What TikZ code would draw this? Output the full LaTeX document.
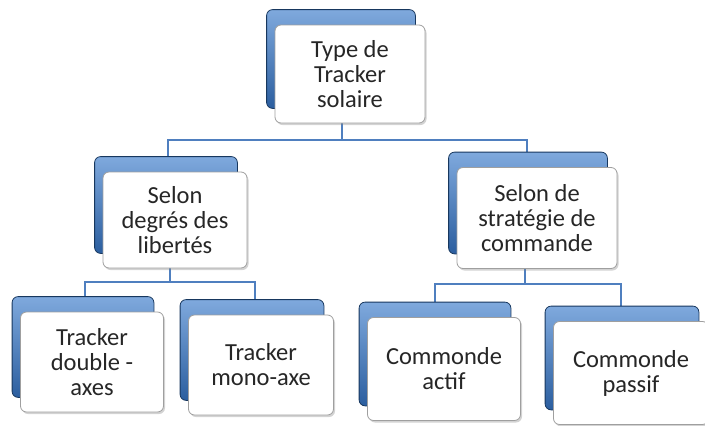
\documentclass[tikz,border=0pt]{standalone}
\usepackage{fontspec}
\setmainfont{Carlito}
\usetikzlibrary{backgrounds,shadows}

\definecolor{tabdark}{HTML}{17375E}
\definecolor{tabtop}{HTML}{7FA9DD}
\definecolor{tabbot}{HTML}{2B5E9F}
\definecolor{linkblue}{HTML}{4F7FBF}

\tikzset{
  card/.style={rectangle, rounded corners=6pt, draw=gray!75, line width=0.8pt,
    fill=white, align=center, inner sep=2pt, text=black!85,
    font=\fontsize{24.5}{25}\selectfont,
    drop shadow={shadow xshift=1.5pt, shadow yshift=-2pt, opacity=0.35}},
  tab/.style={rounded corners=6pt, draw=tabdark, line width=0.8pt,
    top color=tabtop, bottom color=tabbot},
  link/.style={draw=linkblue, line width=2pt}
}

\begin{document}
\begin{tikzpicture}[x=1pt,y=-1pt]
\useasboundingbox (0,0) rectangle (705,426);

% Boxes
\node[card, minimum width=150pt, minimum height=98pt] (top) at (350,74) {Type de\\Tracker\\solaire};
\node[card, minimum width=144pt, minimum height=96pt] (selA) at (175,220) {Selon\\degrés des\\libertés};
\node[card, minimum width=160pt, minimum height=101pt] (selB) at (537,218) {Selon de\\stratégie de\\commande};
\node[card, minimum width=143pt, minimum height=100pt] (trA) at (92,362) {Tracker\\double -\\axes};
\node[card, minimum width=145pt, minimum height=100pt] (trB) at (261,365) {Tracker\\mono-axe};
\node[card, minimum width=153pt, minimum height=103pt] (cmA) at (444,369) {Commonde\\actif};
\node[card, minimum width=155pt, minimum height=103pt] (cmB) at (631,373) {Commonde\\passif};

\begin{scope}[on background layer]
% Connectors
\draw[link] ([xshift=-8]top.south) -- ++(0,17) -| ([xshift=-7]selA.north);
\draw[link] ([xshift=-8]top.south) -- ++(0,17) -| ([xshift=-10]selB.north);
\draw[link] ([xshift=-5]selA.south) -- ++(0,14) -| ([xshift=-7]trA.north);
\draw[link] ([xshift=-5]selA.south) -- ++(0,14) -| ([xshift=-6]trB.north);
\draw[link] ([xshift=-12]selB.south) -- ++(0,15) -| ([xshift=-9]cmA.north);
\draw[link] ([xshift=-12]selB.south) -- ++(0,15) -| ([xshift=-10]cmB.north);

% Blue tabs behind the boxes
\foreach \n in {top,selA,selB,trA,trB,cmA,cmB}
{
\draw[tab] ([shift={(-8,-15)}]\n.north west) rectangle ([shift={(-10,-15)}]\n.south east);
}
\end{scope}

\end{tikzpicture}
\end{document}
